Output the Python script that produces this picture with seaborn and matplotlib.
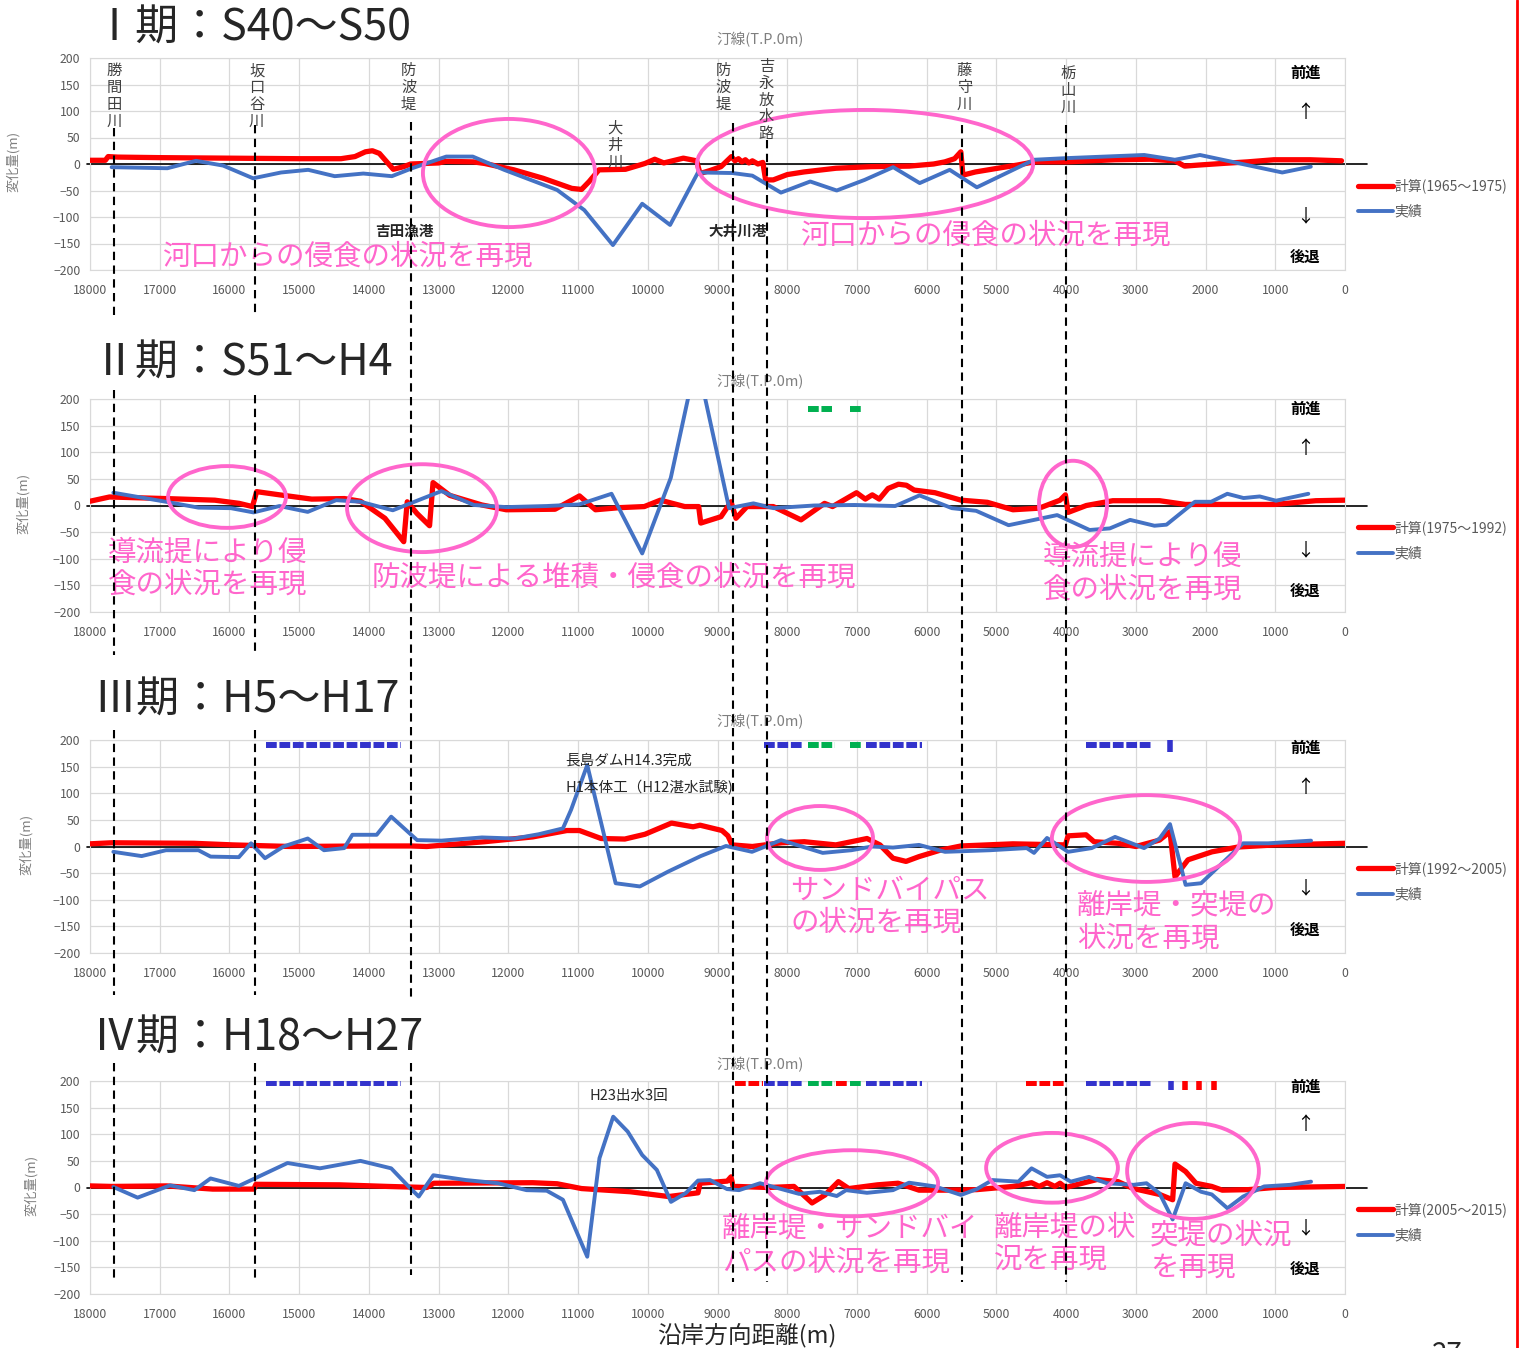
import matplotlib
matplotlib.use("Agg")
import matplotlib.pyplot as plt
from matplotlib.patches import Ellipse
from matplotlib.lines import Line2D
import seaborn as sns

W, H = 1519, 1348

# ---------------- data ----------------
# Period I  (S40-S50)
p1_obs_x = [17690, 16890, 16480, 16090, 15660, 15260, 14870, 14490, 14080, 13670, 13380, 12890, 12510,
            12060, 11300, 10910, 10500, 10080, 9680, 9280, 8790, 8500, 8090, 7670, 7290, 6890, 6480,
            6100, 5670, 5280, 4460, 4010, 2880, 2440, 2080, 900, 490]
p1_obs_y = [-6, -8, 6, -3, -27, -16, -11, -23, -18, -23, -8, 14, 14,
            -11, -49, -87, -153, -75, -115, -16, -17, -22, -54, -33, -50, -30, -6,
            -36, -11, -44, 8, 11, 17, 8, 17, -16, -5]
p1_calc_x = [18000, 17780, 17740, 17600, 17000, 16000, 15000, 14400, 14200, 14050, 13950, 13850, 13750,
             13650, 13500, 13400, 13000, 12900, 12500, 12340, 11920, 11500, 11090, 10950, 10840, 10700,
             10320, 10040, 9900, 9770, 9490, 9300, 9250, 9100, 8950, 8800, 8750, 8700, 8650, 8600, 8550,
             8500, 8420, 8350, 8310, 8200, 8000, 7760, 7300, 6800, 6250, 5900, 5740, 5600, 5510, 5480,
             5300, 4980, 4700, 4460, 4000, 3300, 2800, 2440, 2300, 2100, 1760, 1400, 1020, 500, 50]
p1_calc_y = [7, 7, 14, 13, 12, 11, 10, 10, 14, 23, 25, 20, 5,
             -10, -5, 0, 2, 5, 4, 1, -11, -27, -46, -48, -33, -11,
             -10, 1, 9, 2, 11, 6, -18, -12, -5, 14, 6, 10, 4, 8, 2,
             6, 0, 3, -30, -30, -20, -15, -8, -5, -4, 0, 4, 10, 23, -21,
             -15, -8, -2, 4, 4, 8, 9, 6, -4, -2, 1, 4, 8, 8, 6]

# Period II  (S51-H4)
p2_obs_x = [17665, 16910, 16445, 15980, 15655, 15283, 14877, 14470, 14120, 13657, 12960, 12495, 12030,
            11450, 10984, 10520, 10080, 9670, 9300, 8834, 8485, 8195, 7614, 7033, 6452, 6103, 5638,
            5290, 4825, 4128, 3663, 3373, 3082, 2733, 2560, 2153, 1920, 1688, 1455, 1223, 990, 526]
p2_obs_y = [24, 7, -4, -5, -13, -1, -12, 10, 7, -9, 27, 1, -3,
            -1, 2, 22, -90, 52, 275, -5, 4, -5, 0, 1, -1, 19, -5,
            -10, -37, -18, -46, -43, -27, -38, -36, 7, 7, 22, 14, 17, 9, 22]
p2_calc_x = [18000, 17720, 16910, 16210, 15860, 15670, 15610, 15280, 14820, 14350, 14120, 13770, 13500,
             13450, 13310, 13130, 13080, 12840, 12380, 12030, 11330, 10980, 10750, 10400, 10050, 9820,
             9470, 9270, 9240, 8950, 8806, 8735, 8577, 8200, 7802, 7465, 7350, 7006, 6880, 6780, 6680,
             6553, 6404, 6290, 6180, 5880, 5508, 5130, 4762, 4386, 4087, 4010, 3972, 3710, 3330, 2660,
             2290, 1010, 417, 0]
p2_calc_y = [8, 16, 13, 10, 4, -2, 26, 20, 12, 13, 8, -24, -68,
             7, -15, -38, 43, 19, 1, -8, -7, 18, -8, -4, -2, 10,
             -2, -2, -33, -21, 7, -24, -2, -2, -27, 4, -2, 24, 12, 20, 12,
             32, 40, 38, 29, 24, 10, 6, -8, -5, 10, 20, -13, 0, 9, 9,
             2, 2, 9, 10]

# Period III  (H5-H17)
p3_obs_x = [17665, 17260, 16910, 16445, 16270, 15865, 15690, 15490, 15225, 14877, 14644, 14354, 14237,
            13888, 13680, 13308, 12960, 12378, 11913, 11565, 11217, 11100, 10868, 10461, 10113, 9706,
            9241, 8878, 8505, 8089, 7491, 7080, 6784, 6483, 6110, 5737, 5091, 4565, 4460, 4274, 3972,
            3634, 3298, 2882, 2660, 2510, 2286, 2064, 1462, 1100, 487]
p3_obs_y = [-10, -18, -7, -7, -19, -20, 6, -22, 0, 15, -7, -3, 22,
            22, 56, 12, 11, 17, 15, 23, 34, 69, 153, -69, -75, -47,
            -18, 1, -10, 12, -12, -7, 0, -2, 3, -10, -7, -3, -12, 16, -10,
            -3, 18, -3, 15, 42, -72, -69, 6, 6, 11]
p3_calc_x = [18000, 17690, 16510, 15950, 15120, 14000, 13400, 13170, 12340, 11650, 11160, 10980, 10670,
             10330, 10040, 9660, 9350, 9250, 8935, 8850, 8790, 8500, 8079, 7755, 7303, 6856, 6670,
             6483, 6296, 6110, 5808, 5508, 4763, 4010, 3972, 3714, 3600, 3255, 3000, 2660, 2510, 2438,
             2252, 1907, 1535, 1000, 0]
p3_calc_y = [5, 7, 6, 3, 0, 1, 1, 0, 9, 18, 30, 30, 15,
             14, 23, 44, 37, 40, 30, 20, 3, 0, 7, 9, 3, 15, 3,
             -22, -28, -19, -7, 1, 5, 3, 20, 22, 9, 6, 0, 12, 28, -57,
             -25, -10, -1, 3, 6]

# Period IV  (H18-H27)
p4_obs_x = [17665, 17317, 16852, 16503, 16271, 15864, 15167, 14702, 14121, 13680, 13424, 13285, 13076,
            12610, 12146, 11739, 11449, 11217, 10868, 10693, 10496, 10288, 10080, 9870, 9667, 9450,
            9280, 9107, 8863, 8691, 8390, 7830, 7530, 7290, 7155, 6856, 6483, 6253, 5880, 5508, 5281,
            5058, 4684, 4496, 4274, 4087, 3933, 3672, 3414, 3035, 2847, 2660, 2472, 2286, 2064, 1911,
            1686, 1462, 1160, 787, 487]
p4_obs_y = [1, -19, 4, -5, 17, 3, 46, 36, 50, 36, 1, -17, 23,
            14, 8, -5, -6, -23, -130, 55, 133, 105, 61, 33, -27, -10,
            13, 14, -3, -5, 8, -12, -8, -16, -5, -10, -5, 9, 2, -14, -3,
            14, 11, 36, 20, 23, 11, 20, 8, 5, 8, -11, -60, 8, -8, -13,
            -39, -17, 2, 5, 11]
p4_calc_x = [18000, 17690, 16900, 16240, 15650, 15620, 14420, 13730, 13170, 13070, 11650, 11300, 10950,
             10250, 9700, 9280, 9250, 8860, 8806, 8770, 8726, 8275, 7903, 7644, 7458, 7266, 7117, 6706,
             6410, 6110, 5737, 5281, 4761, 4496, 4386, 4274, 4161, 4087, 4010, 3556, 3255, 3035, 2660,
             2472, 2438, 2286, 2138, 1911, 1760, 1384, 1010, 0]
p4_calc_y = [3, 2, 3, -3, -3, 6, 5, 2, 0, 8, 9, 7, -2,
             -8, -17, -10, 8, 12, 20, -2, 2, 0, 2, -29, -14, 11, -2, 5,
             8, -5, -5, -4, 2, 9, 2, 9, 2, 8, 0, 15, 11, -2, -13,
             -23, 44, 30, 8, 2, -5, -4, 0, 2]

titles = ["Ⅰ期：S40〜S50", "Ⅱ期：S51〜H4", "Ⅲ期：H5〜H17", "Ⅳ期：H18〜H27"]
calc_labels = ["計算(1965〜1975)", "計算(1975〜1992)", "計算(1992〜2005)", "計算(2005〜2015)"]
obs_label = "実績"

# structure lines (alongshore position, m)
structure_x = [17650, 15630, 13400, 8775, 8290, 5490, 4000]
structure_names = ["勝間田川", "坂口谷川", "防波堤", "大井川", "防波堤", "吉永放水路", "藤守川", "栃山川"]
structure_label_x = [17650, 15610, 13430, 10470, 8920, 8300, 5460, 3970]
structure_label_top = [192, 192, 192, 83, 192, 200, 192, 187]

# construction bars at top of panels (x_from, x_to, kind)
p2_bars = [(7700, 7360, "sb"), (7100, 6930, "sb")]
p3_bars = [(15480, 13540, "dw"), (8330, 7760, "dw"), (7700, 7320, "sb"), (7100, 6910, "sb"),
           (6870, 6070, "dw"), (3710, 2770, "dw")]
p3_ticks = [(2510, "dw")]
p4_bars = [(15480, 13540, "dw"), (8750, 8350, "gr"), (8330, 7760, "dw"), (7700, 7320, "sb"),
           (7300, 7110, "gr"), (7100, 6910, "sb"), (6870, 6070, "dw"), (4580, 4030, "gr"),
           (3710, 2770, "dw")]
p4_ticks = [(2500, "dw"), (2295, "gr"), (2090, "gr"), (1880, "gr")]
bar_colors = {"dw": "#3333CC", "sb": "#00B050", "gr": "#FF0000"}

# pink highlight ellipses (centre x, centre y, width m, height m)
p1_ellipses = [(11990, -17, 2470, 204), (6884, 0, 4820, 204)]
p2_ellipses = [(16035, 16, 1690, 116), (13238, -5, 2150, 165), (3901, 3, 975, 162)]
p3_ellipses = [(7530, 16, 1520, 120), (2854, 15, 2700, 163)]
p4_ellipses = [(7071, 8, 2470, 124), (4202, 37, 1890, 131), (2180, 31, 1890, 180)]

# pink remarks (left x, y, text)
p1_notes = [(16967, -175, "河口からの侵食の状況を再現"), (7816, -136, "河口からの侵食の状況を再現")]
p2_notes = [(17742, -119, "導流提により侵\n食の状況を再現"), (13955, -136, "防波堤による堆積・侵食の状況を再現"),
            (4331, -127, "導流提により侵\n食の状況を再現")]
p3_notes = [(7960, -113, "サンドバイパス\nの状況を再現"), (3843, -143, "離岸堤・突堤の\n状況を再現")]
p4_notes = [(8935, -110, "離岸堤・サンドバイ\nパスの状況を再現"), (5034, -105, "離岸堤の状\n況を再現"),
            (2796, -120, "突堤の状況\nを再現")]

# black annotations (x, y, text, bold)
p1_marks = [(13496, -126, "吉田漁港", True), (8706, -126, "大井川港", True)]
p3_marks = [(11187, 162, "長島ダムH14.3完成", False), (11187, 110, "H1本体工（H12湛水試験)", False)]
p4_marks = [(10829, 172, "H23出水3回", False)]

# right-side direction labels (y for 前進, ↑, ↓, 後退)
dir_labels = ["前進", "↑", "↓", "後退"]
p1_dir_y = [172, 96, -98, -175]
p2_dir_y = [181, 106, -85, -161]
p3_dir_y = [185, 110, -78, -157]
p4_dir_y = [189, 117, -76, -153]

# ---------------- layout ----------------
panels = [
    dict(top=58, bot=270, title_y=29, shore_y=40, ylab_x=20, obs=(p1_obs_x, p1_obs_y),
         calc=(p1_calc_x, p1_calc_y), ell=p1_ellipses, notes=p1_notes, marks=p1_marks,
         bars=[], ticks=[], bar_y=190, dir_y=p1_dir_y),
    dict(top=399, bot=612, title_y=364, shore_y=382, ylab_x=30, obs=(p2_obs_x, p2_obs_y),
         calc=(p2_calc_x, p2_calc_y), ell=p2_ellipses, notes=p2_notes, marks=[],
         bars=p2_bars, ticks=[], bar_y=181, dir_y=p2_dir_y),
    dict(top=740, bot=953, title_y=701, shore_y=722, ylab_x=33, obs=(p3_obs_x, p3_obs_y),
         calc=(p3_calc_x, p3_calc_y), ell=p3_ellipses, notes=p3_notes, marks=p3_marks,
         bars=p3_bars, ticks=p3_ticks, bar_y=190, dir_y=p3_dir_y),
    dict(top=1081, bot=1294, title_y=1039, shore_y=1065, ylab_x=38, obs=(p4_obs_x, p4_obs_y),
         calc=(p4_calc_x, p4_calc_y), ell=p4_ellipses, notes=p4_notes, marks=p4_marks,
         bars=p4_bars, ticks=p4_ticks, bar_y=196, dir_y=p4_dir_y),
]

# vertical dashed structure lines: pixel spans (top, bottom) for each line
structure_spans = [
    [(128, 315), (390, 655), (730, 995), (1063, 1280)],
    [(125, 315), (395, 655), (730, 995), (1063, 1278)],
    [(122, 1000), (1063, 1275)],
    [(123, 1282)],
    [(140, 1282)],
    [(125, 1282)],
    [(125, 1282)],
]

sns.set_style("white")
plt.rcParams['font.family'] = ['Noto Sans CJK JP', 'DejaVu Sans']

PINK = "#FF66CC"
RED = "#FF0000"
BLUE = "#4472C4"
GRAY = "#595959"

fig = plt.figure(figsize=(W / 100, H / 100), dpi=100)
L, R = 90, 1345

for i, p in enumerate(panels):
    ax = fig.add_axes([L / W, 1 - p["bot"] / H, (R - L) / W, (p["bot"] - p["top"]) / H])
    sns.lineplot(x=p["calc"][0], y=p["calc"][1], ax=ax, color=RED, lw=3.8, sort=False,
                 estimator=None, label=calc_labels[i], zorder=3)
    sns.lineplot(x=p["obs"][0], y=p["obs"][1], ax=ax, color=BLUE, lw=2.8, sort=False,
                 estimator=None, label=obs_label, zorder=4)
    ax.set_xlim(18000, 0)
    ax.set_ylim(-200, 200)
    ax.set_xticks(range(0, 18001, 1000))
    ax.set_yticks(range(-200, 201, 50))
    ax.grid(True, color="#D9D9D9", lw=0.9)
    ax.set_axisbelow(True)
    for s in ax.spines.values():
        s.set_color("#D9D9D9")
    ax.tick_params(length=0, labelsize=8.8, labelcolor=GRAY)
    ax.tick_params(axis="x", pad=10)
    ax.tick_params(axis="y", pad=7)
    ax.set_xlabel("")
    ax.set_ylabel("変化量(m)", color="#7F7F7F", fontsize=9.5)
    ax.yaxis.set_label_coords((p["ylab_x"] - L) / (R - L), 0.51)
    # zero (shoreline) line
    ax.plot([-0.002, 1.0175], [0, 0], transform=ax.get_yaxis_transform(), color="black",
            lw=1.2, clip_on=False, zorder=2.5)

    ax.legend(loc="center left", bbox_to_anchor=(1.0104, 0.336), frameon=False, fontsize=10,
              handlelength=2.5, handletextpad=0.1, labelspacing=0.8, borderaxespad=0,
              borderpad=0, labelcolor=GRAY)

    for cx, cy, w, h in p["ell"]:
        ax.add_patch(Ellipse((cx, cy), w, h, fill=False, ec=PINK, lw=2.8, zorder=6, clip_on=False))
    for x, y, t in p["notes"]:
        ax.text(x, y, t, color=PINK, fontsize=20.5, ha="left", va="center", linespacing=1.1,
                zorder=7, clip_on=False)
    for x, y, t, bold in p["marks"]:
        ax.text(x, y, t, color="#262626", fontsize=10.5, ha="left" if not bold else "center",
                va="center", fontweight="bold" if bold else "normal", zorder=7)
    for x0, x1, k in p["bars"]:
        ax.plot([x0, x1], [p["bar_y"], p["bar_y"]], color=bar_colors[k], lw=4.3,
                ls=(0, (1.8, 0.45)), dash_capstyle="butt", solid_capstyle="butt", zorder=5)
    for x, k in p["ticks"]:
        ax.plot([x], [p["bar_y"]], marker="|", ms=10, mew=4, color=bar_colors[k], zorder=5)
    for lab, y in zip(dir_labels, p["dir_y"]):
        arrow = lab in ("↑", "↓")
        ax.text(573, y, lab, ha="center", va="center", fontsize=13 if arrow else 11,
                fontweight="normal" if arrow else "bold", color="black", zorder=7)

    if i == 0:
        for name, x, top in zip(structure_names, structure_label_x, structure_label_top):
            ax.text(x, top, "\n".join(name), ha="center", va="top", fontsize=11,
                    linespacing=0.98, color="#404040", zorder=7)

    fig.text(93 / W, 1 - p["title_y"] / H, titles[i], fontsize=31, ha="left", va="center")
    fig.text(760 / W, 1 - p["shore_y"] / H, "汀線(T.P.0m)", fontsize=10.5, ha="center",
             va="center", color="#7F7F7F")

# overlay for the dashed structure lines crossing all panels
ov = fig.add_axes([L / W, 0, (R - L) / W, 1], zorder=10)
ov.set_xlim(18000, 0)
ov.set_ylim(H, 0)
ov.set_facecolor("none")
ov.axis("off")
for x, spans in zip(structure_x, structure_spans):
    for y0, y1 in spans:
        ov.plot([x, x], [y0, y1], color="black", lw=1.5, ls=(0, (4, 2.6)))

fig.text(747 / W, 1 - 1335 / H, "沿岸方向距離(m)", fontsize=17, ha="center", va="center")
fig.text(1432 / W, 1 - 1340 / H, "27", fontsize=20, ha="left", va="top")
fig.add_artist(Line2D([1517 / W, 1517 / W], [0, 1], color=RED, lw=2))

fig.savefig("out.png", dpi=100)
